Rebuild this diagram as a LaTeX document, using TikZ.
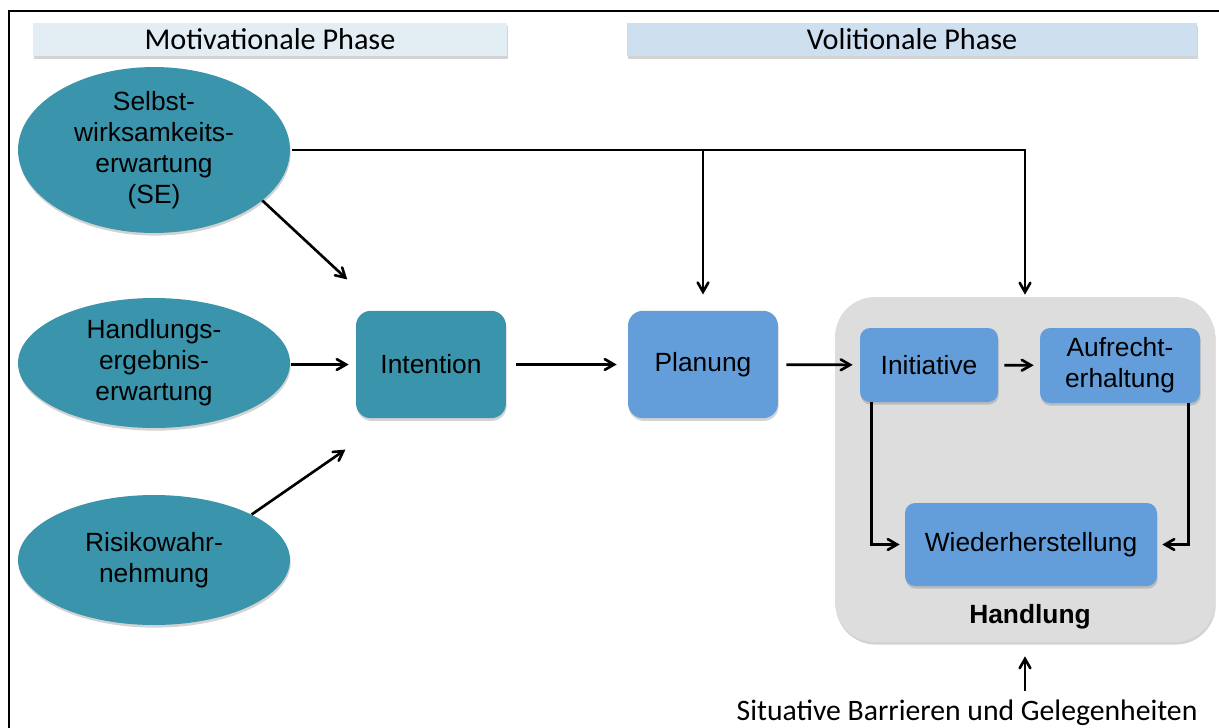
\documentclass[tikz,border=0pt]{standalone}
\usepackage{fontspec}
\setmainfont{Liberation Sans}
\newfontfamily\calibri{Carlito}
\usepackage{xcolor}
\usepackage{tikz}
\usetikzlibrary{shapes,arrows}
\usetikzlibrary{positioning}
\usetikzlibrary{shadows}
\definecolor{tealbox}{RGB}{58,148,171}
\definecolor{bluebox}{RGB}{99,158,219}
\definecolor{graybox}{RGB}{221,221,221}
\definecolor{motivbar}{RGB}{226,238,243}
\definecolor{volitbar}{RGB}{206,224,240}
\tikzstyle{soft shadow} = [drop shadow={shadow xshift=0.4pt, shadow yshift=-1.5pt,
                           opacity=0.35}]
\tikzstyle{phasebar} = [rectangle, minimum height=0.66cm, inner sep=0pt,
    soft shadow]
\tikzstyle{factor} = [ellipse, fill=tealbox, minimum width=5.44cm,
    minimum height=2.6cm, inner sep=0pt, align=center, soft shadow]
\tikzstyle{block} = [rectangle, rounded corners=0.3cm, minimum width=3cm,
    minimum height=2.15cm, align=center, soft shadow]
\tikzstyle{step block} = [rectangle, fill=bluebox, rounded corners=0.2cm,
    minimum height=1.48cm, align=center, inner sep=0pt, soft shadow]
\tikzstyle{container} = [rectangle, fill=graybox, rounded corners=0.8cm,
    minimum width=7.6cm, minimum height=6.9cm, soft shadow]
\tikzstyle{line} = [draw, -angle 60, line width=1.5pt]
\tikzstyle{frame} = [draw, line width=1.1pt]

\begin{document}
\begin{tikzpicture}[x=0.02cm, y=-0.02cm,
    every node/.style={font=\fontsize{15}{17.6}\selectfont}]
  \useasboundingbox (0,0) rectangle (1219,727);
  \draw[frame] (9,11) rectangle (1260,780);
  % Place nodes
  \node [phasebar, fill=motivbar, minimum width=9.48cm] (motiv) at (270,39.5)
    {\calibri\fontsize{17.2}{20}\selectfont Motivationale Phase};
  \node [phasebar, fill=volitbar, minimum width=11.4cm] (volit) at (912,39.5)
    {\calibri\fontsize{17.2}{20}\selectfont Volitionale Phase};
  \node [factor] (se) at (154,150)
    {Selbst-\\wirksamkeits-\\erwartung\\(SE)};
  \node [factor] (hee) at (154,363)
    {Handlungs-\\ergebnis-\\erwartung};
  \node [factor] (risk) at (154,560)
    {Risikowahr-\\nehmung};
  \node [block, fill=tealbox] (intention) at (431,364.5) {Intention};
  \node [block, fill=bluebox] (planung) at (703,364.5) {Planung};
  \node [container] (handlung) at (1025,469.5) {};
  \node [step block, minimum width=2.76cm] (init) at (929,365) {Initiative};
  \node [step block, minimum width=3.2cm, minimum height=1.5cm] (aufrecht)
    at (1120,365.5) {Aufrecht-\\erhaltung};
  \node [step block, minimum width=5.04cm, minimum height=1.66cm] (wieder)
    at (1031,544.5) {Wiederherstellung};
  \node [font=\bfseries\fontsize{15}{17.6}\selectfont] (hlabel) at (1030,617)
    {Handlung};
  \node (situ) at (967,713)
    {\calibri\fontsize{16.9}{19}\selectfont Situative Barrieren und Gelegenheiten};
  % Draw edges
  \path[line, shorten >=0.91cm] (se.-25) -- (intention.133);
  \path[line, shorten <=0.02cm, shorten >=0.14cm] (hee.east |- intention.west)
    -- (intention.west);
  \path[line, shorten >=1.09cm] (risk.25) -- (intention.233);
  \path[line, shorten <=0.2cm, shorten >=0.22cm] (intention) -- (planung);
  \path[line, shorten <=0.16cm, shorten >=0.14cm] (planung) -- (init);
  \path[line, shorten <=0.12cm, shorten >=0.12cm] (init) -- (aufrecht);
  \path[line, shorten <=0.04cm, shorten >=0.04cm] (se.east) -| (handlung.north);
  \path[line, shorten >=0.32cm] (se.east -| planung.north) -- (planung.north);
  \path[line, shorten >=0.1cm] ([xshift=0.24cm]init.south west) |- (wieder.west);
  \path[line, shorten >=0.1cm] ([xshift=-0.24cm]aufrecht.south east)
    |- (wieder.east);
  \path[line, shorten <=0.05cm, shorten >=0.28cm] (handlung.south |- situ.north)
    -- (handlung.south);
\end{tikzpicture}
\end{document}
